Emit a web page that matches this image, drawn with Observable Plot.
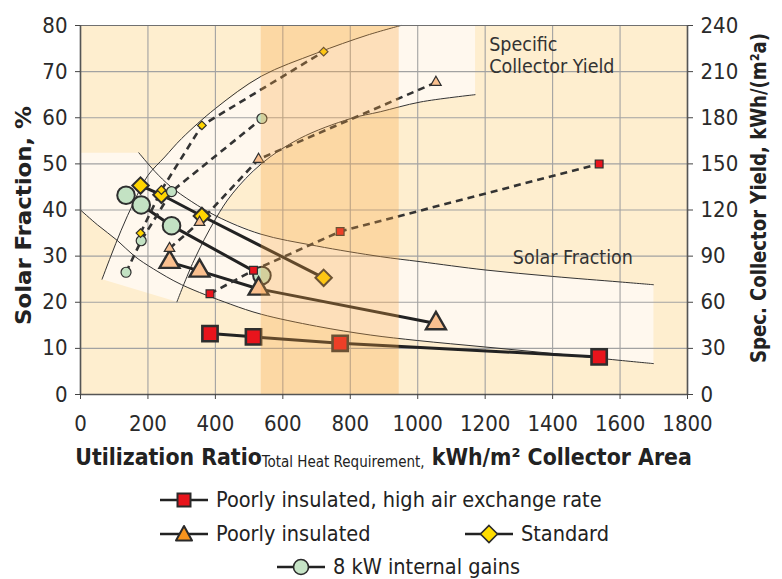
<!DOCTYPE html>
<html><head><meta charset="utf-8">
<script src="https://cdn.jsdelivr.net/npm/d3@7"></script>
<script src="https://cdn.jsdelivr.net/npm/@observablehq/plot@0.6"></script>
<style>
body{margin:0;background:#fff;font-family:"DejaVu Sans Condensed","DejaVu Sans",sans-serif;}
#wrap{position:relative;width:782px;height:579px;overflow:hidden;background:#fff}
#wrap svg.plot{position:absolute;left:0;top:0}
.leg{position:absolute;display:flex;align-items:center;font-size:21.5px;color:#222;white-space:nowrap;height:30px;line-height:30px}
.leg svg{margin-right:8px;flex:none}
</style></head><body><div id="wrap"></div>
<script>
// ---------- data ----------
const seriesNames = ["Poorly insulated, high air exchange rate", "Poorly insulated", "Standard", "8 kW internal gains"];
// utilization ratio (x), solar fraction % (left axis), specific collector yield kWh/(m²a) (right axis)
const xRed = [384, 513, 770, 1538];
const sfRed = [13.2, 12.5, 11.1, 8.15];
const yieldRed = [65.5, 80.8, 106, 150];
const xTri = [264, 353, 528, 1054];
const sfTri = [28.7, 26.8, 22.9, 15.4];
const yieldTri = [95, 112, 153, 203];
const xDia = [178, 240, 360, 721];
const sfDia = [45.3, 43.3, 38.7, 25.3];
const yieldDia = [105, 133, 175, 223];
const xCirc = [135, 180, 270, 538];
const sfCirc = [43.2, 41.1, 36.6, 25.8];
const yieldCirc = [79.5, 100, 132, 179.5];

const xTicks = [0, 200, 400, 600, 800, 1000, 1200, 1400, 1600, 1800];
const xTickLabels = ["0", "200", "400", "600", "800", "1000", "1200", "1400", "1600", "1800"];
const yTicks = [0, 10, 20, 30, 40, 50, 60, 70, 80];
const leftTickLabels = ["0", "10", "20", "30", "40", "50", "60", "70", "80"];
const rightTicks = [0, 30, 60, 90, 120, 150, 180, 210, 240];
const rightTickLabels = ["0", "30", "60", "90", "120", "150", "180", "210", "240"];

// shaded range of utilization ratio
const bandRange = [536, 945];

// "Solar Fraction" range curves (x, %)
const sfUpper = [[173,52.4],[220,48.4],[267,45.1],[330,41.8],[405,38.6],[533,34.8],[700,32.2],[889,29.9],[1007,28.8],[1200,27],[1400,25.6],[1600,24.4],[1699,23.8]];
const sfLower = [[0,40],[50,36.8],[109,33.4],[160,30],[217,27.2],[300,23.8],[444,19.6],[536,17.4],[700,14.8],[859,12.9],[1000,11.7],[1200,10.3],[1400,8.9],[1600,7.4],[1699,6.7]];
const sfCorner = [[0,52.4]];
// "Specific Collector Yield" range curves (x, left-axis units)
const cyUpper = [[64,25],[90,30],[120,35.5],[160,42],[200,47.5],[250,51.5],[300,55.5],[400,62],[536,69],[700,74],[850,77.9],[950,80]];
const cyLower = [[286,20.1],[336,29],[400,38],[450,43.5],[536,50],[650,55.5],[800,59.8],[889,61.3],[1007,63.4],[1170,65]];
const cyCorner = [[1170,80]];

const annotations = [
  {x: 1212, y: 74.5, text: "Specific"},
  {x: 1212, y: 69.6, text: "Collector Yield"},
  {x: 1282, y: 28.3, text: "Solar Fraction"}
];
const leftTitle = "Solar Fraction, %";
const rightTitle = "Spec. Collector Yield, kWh/(m²a)";
const xTitleParts = ["Utilization Ratio", "Total Heat Requirement,", " kWh/m² Collector Area"];

// ---------- build tables ----------
const yRatio = rightTicks[rightTicks.length - 1] / yTicks[yTicks.length - 1];
function rows(name, xs, sfs, ys) { return xs.map((x, i) => ({series: name, x, sf: sfs[i], cy: ys[i]})); }
const data = [
  ...rows(seriesNames[0], xRed, sfRed, yieldRed),
  ...rows(seriesNames[1], xTri, sfTri, yieldTri),
  ...rows(seriesNames[2], xDia, sfDia, yieldDia),
  ...rows(seriesNames[3], xCirc, sfCirc, yieldCirc)
];
const style = {
  [seriesNames[0]]: {symbol: "square", fill: "#E8141C", R: 8.6, r: 4.4, sw: 2.6},
  [seriesNames[1]]: {symbol: "triangle", fill: "#FAC08F", R: 7.4, r: 3.9, sw: 2.4},
  [seriesNames[2]]: {symbol: "diamond2", fill: "#FFD500", R: 7.4, r: 3.9, sw: 2},
  [seriesNames[3]]: {symbol: "circle", fill: "#C3E2C3", R: 8.8, r: 5, sw: 2}
};
const sfRegion = [...sfCorner, ...sfUpper, ...sfLower.slice().reverse()];
const cyRegion = [...cyUpper, ...cyCorner, ...cyLower.slice().reverse()];

const bigOrder = [seriesNames[3], seriesNames[2], seriesNames[1], seriesNames[0]];
const bigDots = bigOrder.map(n => Plot.dot(data.filter(d => d.series === n), {
  x: "x", y: "sf", symbol: style[n].symbol, r: style[n].R, fill: style[n].fill, stroke: "#2e2e2e", strokeWidth: style[n].sw
}));
const smallDots = bigOrder.map(n => Plot.dot(data.filter(d => d.series === n), {
  x: "x", y: d => d.cy / yRatio, symbol: style[n].symbol, r: style[n].r, fill: style[n].fill, stroke: "#2e2e2e", strokeWidth: 1.2
}));

const px = d => d[0], py = d => d[1];
const W = 782, H = 470, mL = 80, mR = 95, mT = 25, mB = 76;
const plot = Plot.plot({
  width: W, height: H,
  marginLeft: mL, marginRight: mR, marginTop: mT, marginBottom: mB,
  x: {domain: [xTicks[0], xTicks[xTicks.length - 1]]},
  y: {domain: [yTicks[0], yTicks[yTicks.length - 1]]},
  style: {fontFamily: "'DejaVu Sans Condensed','DejaVu Sans',sans-serif", fontSize: "22px", color: "#2a2a2a", background: "transparent", overflow: "visible"},
  marks: [
    Plot.frame({fill: "#FEEECF", stroke: null}),
    Plot.line(sfRegion, {x: px, y: py, fill: "#FFF8EE", stroke: "none"}),
    Plot.line(cyRegion, {x: px, y: py, fill: "#FFF8EE", stroke: "none"}),
    Plot.gridX(xTicks, {stroke: "#A2A2A2", strokeOpacity: 1, strokeWidth: 1.1}),
    Plot.gridY(yTicks, {stroke: "#A2A2A2", strokeOpacity: 1, strokeWidth: 1.1}),
    Plot.line(sfUpper, {x: px, y: py, stroke: "#333", strokeWidth: 1, curve: "catmull-rom"}),
    Plot.line(sfLower, {x: px, y: py, stroke: "#333", strokeWidth: 1, curve: "catmull-rom"}),
    Plot.line(cyUpper, {x: px, y: py, stroke: "#333", strokeWidth: 1, curve: "catmull-rom"}),
    Plot.line(cyLower, {x: px, y: py, stroke: "#333", strokeWidth: 1, curve: "catmull-rom"}),
    Plot.line(data, {x: "x", y: "sf", z: "series", stroke: "#222", strokeWidth: 3}),
    Plot.line(data, {x: "x", y: d => d.cy / yRatio, z: "series", stroke: "#333", strokeWidth: 2.6, strokeDasharray: "7,5", strokeLinecap: "butt"}),
    ...bigDots,
    ...smallDots,
    Plot.rect([{x1: bandRange[0], x2: bandRange[1]}], {x1: "x1", x2: "x2", fill: "#F8A543", fillOpacity: 0.3}),
    Plot.text(annotations, {x: "x", y: "y", text: "text", textAnchor: "start", lineAnchor: "bottom", fontSize: 19.5, fill: "#333"}),
    Plot.ruleY([yTicks[yTicks.length - 1]], {stroke: "#707070", strokeWidth: 1.2}),
    Plot.ruleX([xTicks[0], xTicks[xTicks.length - 1]], {stroke: "#555", strokeWidth: 1.6}),
    Plot.ruleY([yTicks[0]], {stroke: "#555", strokeWidth: 1.6}),
    Plot.axisX({ticks: xTicks, tickFormat: d => xTickLabels[xTicks.indexOf(d)], tickSize: 5, tickPadding: 16, label: null, stroke: "#444"}),
    Plot.axisY({anchor: "left", ticks: yTicks, tickFormat: d => leftTickLabels[yTicks.indexOf(d)], tickSize: 5, tickPadding: 8, label: null, stroke: "#444"}),
    Plot.axisY({anchor: "right", ticks: yTicks, tickFormat: d => rightTickLabels[yTicks.indexOf(d)], tickSize: 5, tickPadding: 8, label: null, stroke: "#444"})
  ]
});
plot.classList.add("plot");
const wrap = document.getElementById("wrap");
wrap.appendChild(plot);

const svg = d3.select(plot);
// vertical axis titles
function vTitle(text, cx, cy, len) {
  const el = svg.append("text")
    .attr("transform", `translate(${cx},${cy}) rotate(-90)`)
    .attr("text-anchor", "middle").attr("dominant-baseline", "central")
    .attr("font-weight", "bold").attr("font-size", 22).attr("fill", "#222")
    .text(text);
  el.attr("textLength", len).attr("lengthAdjust", "spacingAndGlyphs");
}
vTitle(leftTitle, 23, 215.5, 219);
vTitle(rightTitle, 758, 198, 330);

// x-axis title with subscript
const t = svg.append("text").attr("x", (mL + W - mR) / 2).attr("y", 465).attr("text-anchor", "middle").attr("fill", "#222").style("white-space", "pre");
t.append("tspan").attr("font-weight", "bold").attr("font-size", 22.8).text(xTitleParts[0]);
t.append("tspan").attr("font-size", 15).attr("dy", 2).text(xTitleParts[1]);
t.append("tspan").attr("font-weight", "bold").attr("font-size", 22.8).attr("dy", -2).text(xTitleParts[2]);

// ---------- legend ----------
const legendFill = ["#E8141C", "#F7941D", "#FFDD00", "#C6E4C6"];
function markerSvg(kind, fill) {
  let shape = "";
  if (kind === 0) shape = `<rect x="17.5" y="3.5" width="13" height="13" fill="${fill}" stroke="#2a2a2a" stroke-width="2"/>`;
  if (kind === 1) shape = `<path d="M24,2 L32,16.5 L16,16.5 Z" fill="${fill}" stroke="#2a2a2a" stroke-width="2" stroke-linejoin="round"/>`;
  if (kind === 2) shape = `<path d="M24,1.5 L32.5,10 L24,18.5 L15.5,10 Z" fill="${fill}" stroke="#2a2a2a" stroke-width="1.6"/>`;
  if (kind === 3) shape = `<circle cx="24" cy="10" r="7.5" fill="${fill}" stroke="#2a2a2a" stroke-width="1.6"/>`;
  return `<svg width="48" height="20" viewBox="0 0 48 20"><line x1="0" y1="10" x2="48" y2="10" stroke="#222" stroke-width="2.4"/>${shape}</svg>`;
}
const legendPos = [[160, 500], [160, 534], [465, 534], [277, 567]];
seriesNames.forEach((n, i) => {
  const div = document.createElement("div");
  div.className = "leg";
  div.style.left = legendPos[i][0] + "px";
  div.style.top = (legendPos[i][1] - 15) + "px";
  div.innerHTML = markerSvg(i, legendFill[i]) + `<span>${n}</span>`;
  wrap.appendChild(div);
});
</script></body></html>
